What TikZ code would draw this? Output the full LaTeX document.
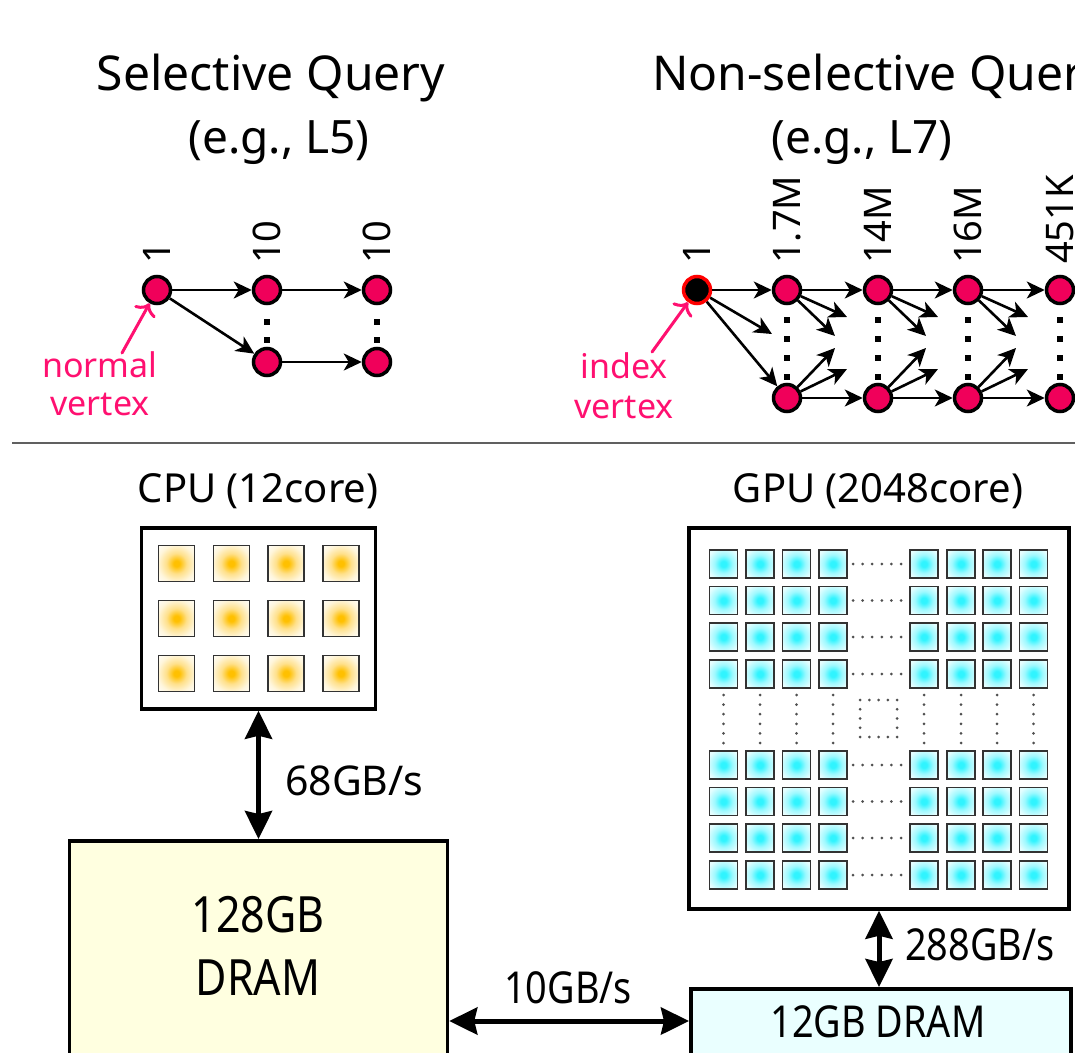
\documentclass[tikz,border=0pt]{standalone}
\usepackage{fontspec}
\setmainfont{Noto Sans}
\newfontfamily\condsans[FakeStretch=0.86]{Noto Sans}
\usetikzlibrary{arrows.meta}
\definecolor{vpink}{HTML}{F0005A}
\definecolor{tpink}{HTML}{FF1070}
\definecolor{cpuc}{HTML}{FFC000}
\definecolor{cpum}{HTML}{FFE08A}
\definecolor{cpul}{HTML}{FFF6DC}
\definecolor{gpuc}{HTML}{30F4FF}
\definecolor{gpum}{HTML}{9EF9FF}
\definecolor{gpue}{HTML}{E6FEFF}
\definecolor{dramy}{HTML}{FFFFE0}
\definecolor{dramc}{HTML}{EAFFFF}
\definecolor{sepgray}{HTML}{606060}
\definecolor{dotgray}{HTML}{505050}
\pgfdeclareradialshading{cpushade}{\pgfpoint{0bp}{0bp}}{color(0bp)=(cpuc); color(4bp)=(cpuc); color(14bp)=(cpum); color(26bp)=(cpul); color(38bp)=(white); color(50bp)=(white)}
\pgfdeclareradialshading{gpushade}{\pgfpoint{0bp}{0bp}}{color(0bp)=(gpuc); color(5bp)=(gpuc); color(16bp)=(gpum); color(30bp)=(gpue); color(50bp)=(gpue)}
\begin{document}
\begin{tikzpicture}[x=1pt,y=-1pt,
  txt/.style={inner sep=0pt, anchor=base},
  f48/.style={font=\fontsize{48}{56}\selectfont},
  f46/.style={font=\fontsize{46}{54}\selectfont},
  fdram/.style={font=\condsans\fontsize{50}{58}\selectfont},
  f41/.style={font=\fontsize{41}{48}\selectfont},
  fcond/.style={font=\condsans\fontsize{44}{50}\selectfont},
  f40/.style={font=\fontsize{40}{48}\selectfont},
  f38/.style={font=\fontsize{38}{46}\selectfont},
  f34/.style={font=\fontsize{34}{40}\selectfont},
  cnt/.style={inner sep=0pt, rotate=90, anchor=west, f38},
  vtx/.style={circle, draw=black, line width=3.5pt, fill=vpink, minimum size=27pt, inner sep=0pt},
  idx/.style={circle, draw=red, line width=3.5pt, fill=black, minimum size=27pt, inner sep=0pt},
  garrow/.style={line width=2.6pt, -{Stealth[length=18pt,width=17pt,inset=5pt]}},
  parrow/.style={draw=tpink, line width=3pt, line cap=round, -{Computer Modern Rightarrow[length=11pt,width=24pt]}},
  vdot/.style={fill=black},
  box/.style={draw=black, line width=3.5pt, fill=white, inner sep=0pt},
  bigarrow/.style={line width=5pt, {Stealth[length=28pt,width=27pt,inset=3pt]}-{Stealth[length=28pt,width=27pt,inset=3pt]}},
  cpucore/.style={draw=black!80, line width=1.6pt, shading=cpushade},
  gpucore/.style={draw=black!80, line width=1.6pt, shading=gpushade},
  gdots/.style={draw=dotgray, line width=3pt, line cap=round, dash pattern=on 0pt off 9.6pt}
]
\useasboundingbox (0,0) rectangle (1075,1052);
\clip (0,0) rectangle (1075,1052);

% ---------- titles ----------
\node[txt,f48] (t1) at (271,90) {Selective Query};
\node[txt,f46] (t1b) at (279,153) {(e.g., L5)};
\node[txt,f48,anchor=base west] (t2) at (652,90) {Non-selective Query};
\node[txt,f46] (t2b) at (862,153) {(e.g., L7)};

% ---------- selective graph ----------
\node[vtx] (a1) at (157,290) {};
\node[vtx] (a2) at (267,290) {};
\node[vtx] (a3) at (377,290) {};
\node[vtx] (b2) at (267,362) {};
\node[vtx] (b3) at (377,362) {};
\node[cnt] (la1) at (157,264) {1};
\node[cnt] (la2) at (267,264) {10};
\node[cnt] (la3) at (377,264) {10};
\draw[garrow] (a1) -- (a2);
\draw[garrow] (a2) -- (a3);
\draw[garrow] (a1) -- (b2);
\draw[garrow] (b2) -- (b3);
\foreach \x in {267,377}{
  \foreach \y in {322,340}{
    \fill[vdot] (\x-3,\y-3) rectangle (\x+3,\y+3);
  }
}
\node[txt,f34,text=tpink] (nv1) at (100,377) {normal};
\node[txt,f34,text=tpink] (nv2) at (100,415) {vertex};
\coordinate (nvtail) at (122,353);
\draw[parrow] (nvtail) -- (a1);

% ---------- non-selective graph ----------
\node[idx] (ix) at (697,290) {};
\foreach \i/\x in {1/787,2/878,3/968,4/1060}{
  \node[vtx] (p\i) at (\x,290) {};
  \node[vtx] (q\i) at (\x,398) {};
  \foreach \y in {320,339,358,377}{
    \fill[vdot] (\x-3,\y-3) rectangle (\x+3,\y+3);
  }
}
\node[cnt] (lix) at (697,264) {1};
\node[cnt] (lp1) at (787,264) {1.7M};
\node[cnt] (lp2) at (878,264) {14M};
\node[cnt] (lp3) at (968,264) {16M};
\node[cnt] (lp4) at (1060,264) {451K};
\coordinate (m0) at (772,334);
\draw[garrow] (ix) -- (p1);
\draw[garrow] (ix) -- (m0);
\draw[garrow] (ix) -- (q1);
\foreach \i/\j/\x in {1/2/787,2/3/878,3/4/968}{
  \draw[garrow] (p\i) -- (p\j);
  \draw[garrow] (q\i) -- (q\j);
  \coordinate (pa\i) at (\x+60,317);
  \coordinate (pb\i) at (\x+48,336);
  \coordinate (qa\i) at (\x+48,348);
  \coordinate (qb\i) at (\x+60,369);
  \draw[garrow] (p\i) -- (pa\i);
  \draw[garrow] (p\i) -- (pb\i);
  \draw[garrow] (q\i) -- (qa\i);
  \draw[garrow] (q\i) -- (qb\i);
}
\node[txt,f34,text=tpink] (iv1) at (624,378) {index};
\node[txt,f34,text=tpink] (iv2) at (624,418) {vertex};
\coordinate (ivtail) at (652,352);
\draw[parrow] (ivtail) -- (ix);

% ---------- separator ----------
\coordinate (sepL) at (12,443);
\coordinate (sepR) at (1075,443);
\draw[sepgray, line width=1.5pt] (sepL) -- (sepR);

% ---------- CPU ----------
\node[txt,f40] (cpulbl) at (258,502) {CPU (12core)};
\node[box, minimum width=234pt, minimum height=181pt] (cpu) at (258.5,618.5) {};
\foreach \i in {0,...,3}{
  \foreach \j in {0,...,2}{
    \shadedraw[cpucore] ({176.5+54.8*\i-18},{563.5+55*\j-18}) rectangle ++(36,36);
  }
}
\node[box, fill=dramy, minimum width=378pt, minimum height=300pt, anchor=north] (dram) at (258.5,839) {};
\node[txt,fdram] (dramt1) at (258,932) {128GB};
\node[txt,fdram] (dramt2) at (258,995) {DRAM};
\draw[bigarrow] (cpu.south) -- (dram.north);
\node[txt,f41,anchor=base west] (bw1) at (285,795) {68GB/s};

% ---------- GPU ----------
\node[txt,f40] (gpulbl) at (878,502) {GPU (2048core)};
\node[box, minimum width=380pt, minimum height=381pt] (gpu) at (879,718.5) {};
\foreach \x in {723.5,760,796.5,833,924,961,997,1033.5}{
  \foreach \y in {564,600.5,637,674,765,801.5,838,875}{
    \shadedraw[gpucore] (\x-14,\y-14) rectangle ++(28,28);
  }
}
\foreach \y in {564,600.5,637,674,765,801.5,838,875}{
  \draw[gdots] (853,\y) -- (903,\y);
}
\foreach \x in {723.5,760,796.5,833,924,961,997,1033.5}{
  \draw[gdots] (\x,695) -- (\x,743);
}
\draw[draw=dotgray, line width=3pt, line cap=round, dash pattern=on 0pt off 9.25pt] (860,700) rectangle (897,737);
\node[box, fill=dramc, minimum width=380pt, minimum height=200pt, anchor=north west] (gdram) at (689,987) {};
\node[txt,fcond] (gdramt) at (878,1037) {12GB DRAM};
\draw[bigarrow] (gpu.south) -- (gdram.north -| gpu.south);
\node[txt,fcond,anchor=base west] (bw2) at (905,960) {288GB/s};

% ---------- host-device link ----------
\coordinate (h10) at (0,1021);
\draw[bigarrow] (dram.east |- h10) -- (gdram.west |- h10);
\node[txt,fcond] (bw3) at (568,1003) {10GB/s};
\end{tikzpicture}
\end{document}
